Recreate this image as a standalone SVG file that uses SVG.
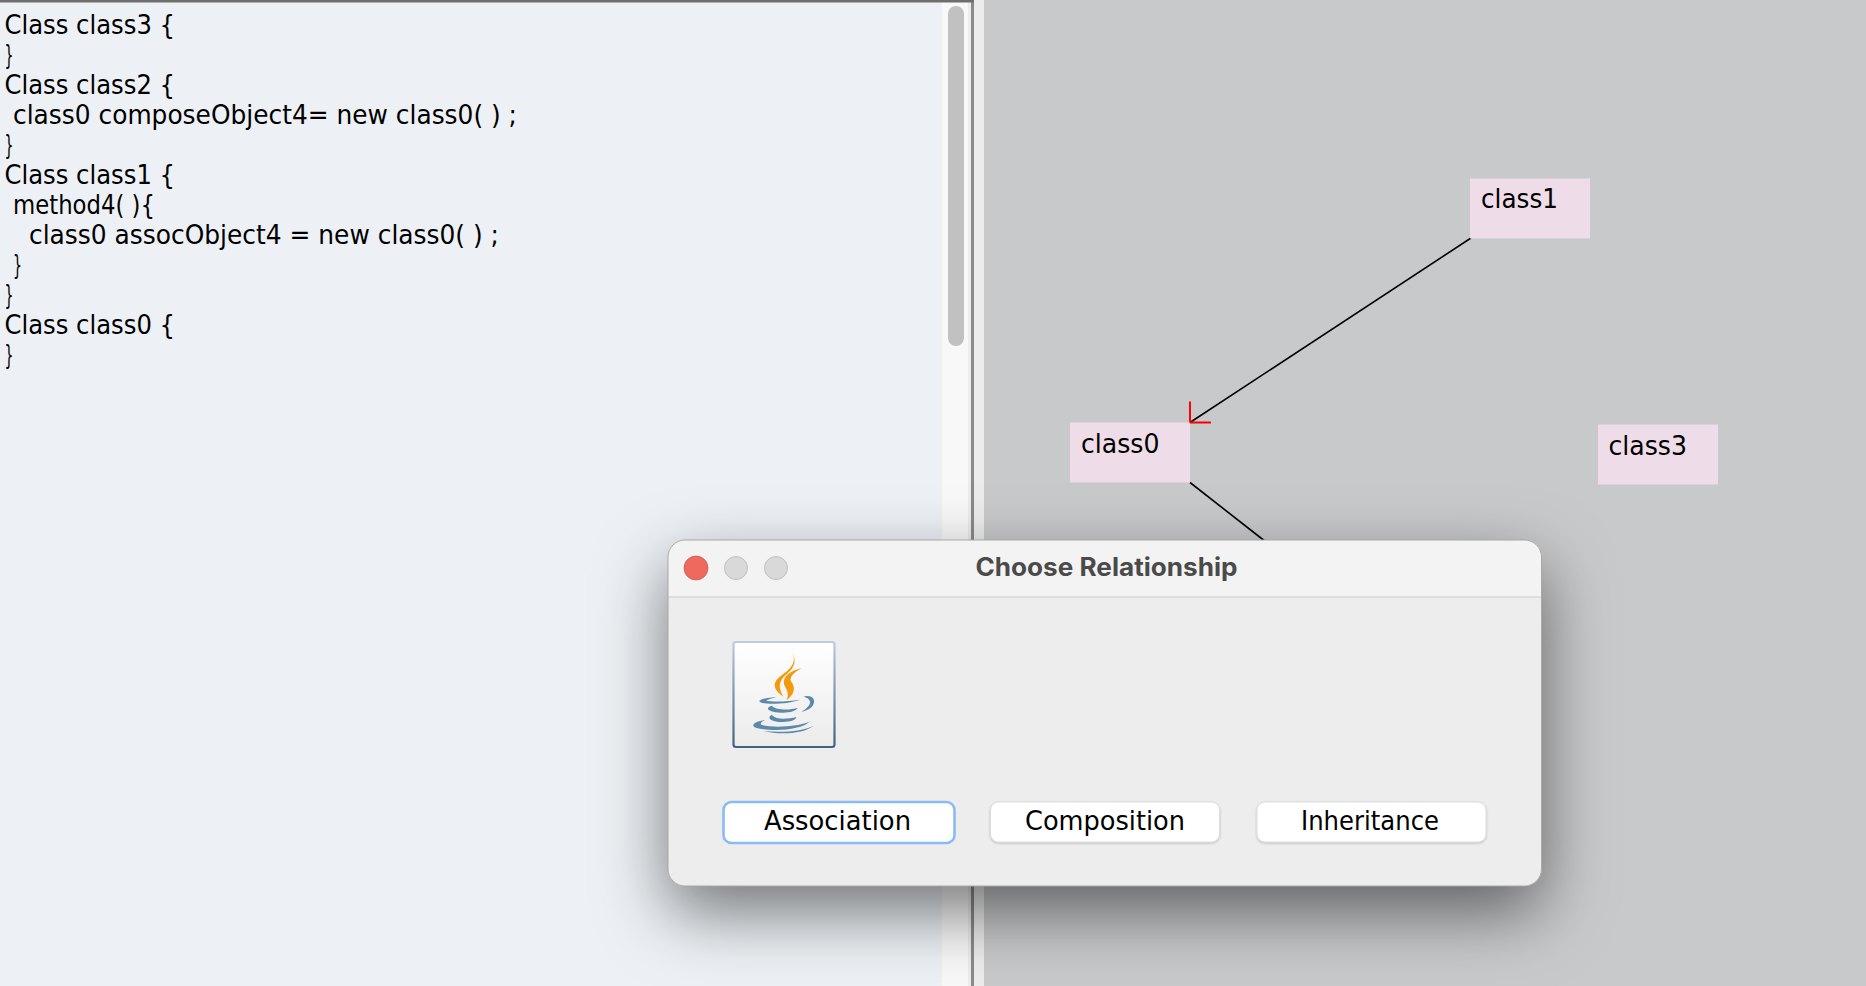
<svg xmlns="http://www.w3.org/2000/svg" width="1866" height="986" viewBox="0 0 1866 986">
<style>
text{font-family:"DejaVu Sans","Liberation Sans",sans-serif;fill:#000}
.code{font-size:26.5px}
.node rect{fill:#eedde9}
.lbl{font-size:26.5px}
.btn{font-size:26.5px}
.btnbox{fill:#fff;stroke:#dcdcdc;stroke-width:1}
.blue{fill:#5c89a9}
.orange{fill:#f29a0c}
</style>
<defs>
<filter id="shadow" x="-20%" y="-40%" width="140%" height="200%"><feDropShadow dx="0" dy="26" stdDeviation="34" flood-color="#000" flood-opacity="0.52"/></filter>
<filter id="bshadow" x="-5%" y="-10%" width="110%" height="130%"><feDropShadow dx="0" dy="1" stdDeviation="1" flood-color="#000" flood-opacity="0.22"/></filter>
<linearGradient id="iconStroke" x1="0" y1="0" x2="0" y2="1"><stop offset="0" stop-color="#bccbdd"/><stop offset="1" stop-color="#3f6181"/></linearGradient>
<linearGradient id="iconFill" x1="0" y1="0" x2="0" y2="1"><stop offset="0" stop-color="#fff"/><stop offset="1" stop-color="#ebebeb"/></linearGradient>
</defs>
<g id="background">
<rect x="0" y="0" width="1866" height="986" fill="#c8c9cb"/>
<rect x="0" y="0" width="942" height="986" fill="#edf1f5"/>
<rect x="942" y="0" width="26" height="986" fill="#f8f8f8"/>
<rect x="968" y="0" width="3" height="986" fill="#ececec"/>
<rect x="971" y="0" width="3" height="986" fill="#8a8a8a"/>
<rect x="974" y="0" width="10" height="986" fill="#ececec"/>
<rect x="0" y="0" width="974" height="2.5" fill="#6e6e6e"/>
<rect x="948" y="6" width="16" height="340" rx="8" fill="#c1c1c1"/>
</g>
<g id="code">
<text class="code" x="4.5" y="34" textLength="170.5" lengthAdjust="spacingAndGlyphs">Class class3 {</text>
<text class="code" x="4.5" y="64" textLength="9" lengthAdjust="spacingAndGlyphs">}</text>
<text class="code" x="4.5" y="94" textLength="170.5" lengthAdjust="spacingAndGlyphs">Class class2 {</text>
<text class="code" x="13" y="124" textLength="504" lengthAdjust="spacingAndGlyphs">class0 composeObject4= new class0( ) ;</text>
<text class="code" x="4.5" y="154" textLength="9" lengthAdjust="spacingAndGlyphs">}</text>
<text class="code" x="4.5" y="184" textLength="170.5" lengthAdjust="spacingAndGlyphs">Class class1 {</text>
<text class="code" x="13" y="214" textLength="142" lengthAdjust="spacingAndGlyphs">method4( ){</text>
<text class="code" x="29" y="244" textLength="470" lengthAdjust="spacingAndGlyphs">class0 assocObject4 = new class0( ) ;</text>
<text class="code" x="13" y="274" textLength="9" lengthAdjust="spacingAndGlyphs">}</text>
<text class="code" x="4.5" y="304" textLength="9" lengthAdjust="spacingAndGlyphs">}</text>
<text class="code" x="4.5" y="334" textLength="170.5" lengthAdjust="spacingAndGlyphs">Class class0 {</text>
<text class="code" x="4.5" y="364" textLength="9" lengthAdjust="spacingAndGlyphs">}</text>
</g>
<g id="connectors" fill="none">
<line x1="1471" y1="238" x2="1190" y2="422.5" stroke="#000" stroke-width="1.6"/>
<line x1="1190" y1="482.5" x2="1266" y2="542" stroke="#000" stroke-width="1.6"/>
<path d="M1190 401.5V422.5H1211" stroke="#f00" stroke-width="2"/>
</g>
<g id="class1" class="node"><rect x="1470" y="178.5" width="120" height="60"/><text class="lbl" x="1481" y="208" textLength="77" lengthAdjust="spacingAndGlyphs">class1</text></g>
<g id="class0" class="node"><rect x="1070" y="422.5" width="120" height="60"/><text class="lbl" x="1081" y="452.5" textLength="78.5" lengthAdjust="spacingAndGlyphs">class0</text></g>
<g id="class3" class="node"><rect x="1598" y="424.5" width="120" height="60"/><text class="lbl" x="1608.5" y="454.5" textLength="78.5" lengthAdjust="spacingAndGlyphs">class3</text></g>
<g id="dialog">
<rect x="668" y="540" width="873.5" height="346" rx="17" fill="#ededed" filter="url(#shadow)"/>
<path d="M668 597V557a17 17 0 0 1 17-17H1524.5a17 17 0 0 1 17 17V597Z" fill="#f4f3f4"/>
<line x1="668" y1="597" x2="1541.5" y2="597" stroke="#cbcbcb" stroke-width="1.2"/>
<rect x="668" y="540" width="873.5" height="346" rx="17" fill="none" stroke="#a8a8a8" stroke-width="1"/>
<circle cx="696" cy="568" r="12" fill="#ee6a5f" stroke="#d8554b" stroke-width="0.8"/>
<circle cx="736" cy="568" r="11.5" fill="#dad9da" stroke="#bfbfbf" stroke-width="1"/>
<circle cx="776" cy="568" r="11.5" fill="#dad9da" stroke="#bfbfbf" stroke-width="1"/>
<text x="975.5" y="576" font-size="25" font-weight="700" style="font-family:Inter,'Liberation Sans',sans-serif;fill:#4a4a4a" textLength="262" lengthAdjust="spacingAndGlyphs">Choose Relationship</text>
</g>
<g id="java-icon">
<rect x="733.5" y="642" width="101" height="105" rx="2.5" fill="url(#iconFill)" stroke="url(#iconStroke)" stroke-width="2.2"/>
<g transform="translate(640 520) scale(0.33333)">
<path class="orange" d="M456 395C474 430 446 450 422 468C396 488 398 508 430 530C414 502 416 482 438 464C462 444 472 425 456 395Z"/>
<path class="orange" d="M486 444C448 454 428 470 432 492C436 506 450 516 440 540C466 522 466 500 454 486C446 472 462 456 486 444Z"/>
<path class="blue" d="M410 531C372 534 352 540 360 546C372 554 440 554 480 539C445 545 395 546 378 542C385 538 395 535 410 531Z"/>
<path class="blue" d="M490 530C512 523 527 535 521 551C515 566 500 571 484 576C500 565 512 555 510 545C508 535 500 533 490 530Z"/>
<path class="blue" d="M395 557C372 565 385 577 430 578C450 578 467 573 473 564C450 570 410 572 395 557Z"/>
<path class="blue" d="M395 584C378 595 395 606 430 606C450 605 467 601 469 591C440 598 410 600 395 584Z"/>
<path class="blue" d="M375 600C336 605 332 619 350 624C400 636 482 631 511 604C480 620 400 625 365 615C358 610 365 605 375 600Z"/>
<path class="blue" d="M372 633C420 646 492 641 521 617C495 632 430 639 372 633Z"/>
</g>
</g>
<g id="btn-association">
<rect x="723.5" y="802" width="231" height="41" rx="8" fill="#fff" stroke="#88bcf2" stroke-width="2.6"/>
<text class="btn" x="764" y="830" textLength="147" lengthAdjust="spacingAndGlyphs">Association</text>
</g>
<g id="btn-composition">
<rect class="btnbox" x="990.5" y="802" width="229" height="40" rx="8" filter="url(#bshadow)"/>
<text class="btn" x="1025" y="830" textLength="160" lengthAdjust="spacingAndGlyphs">Composition</text>
</g>
<g id="btn-inheritance">
<rect class="btnbox" x="1257" y="802" width="229" height="40" rx="8" filter="url(#bshadow)"/>
<text class="btn" x="1301" y="830" textLength="138" lengthAdjust="spacingAndGlyphs">Inheritance</text>
</g>
</svg>
